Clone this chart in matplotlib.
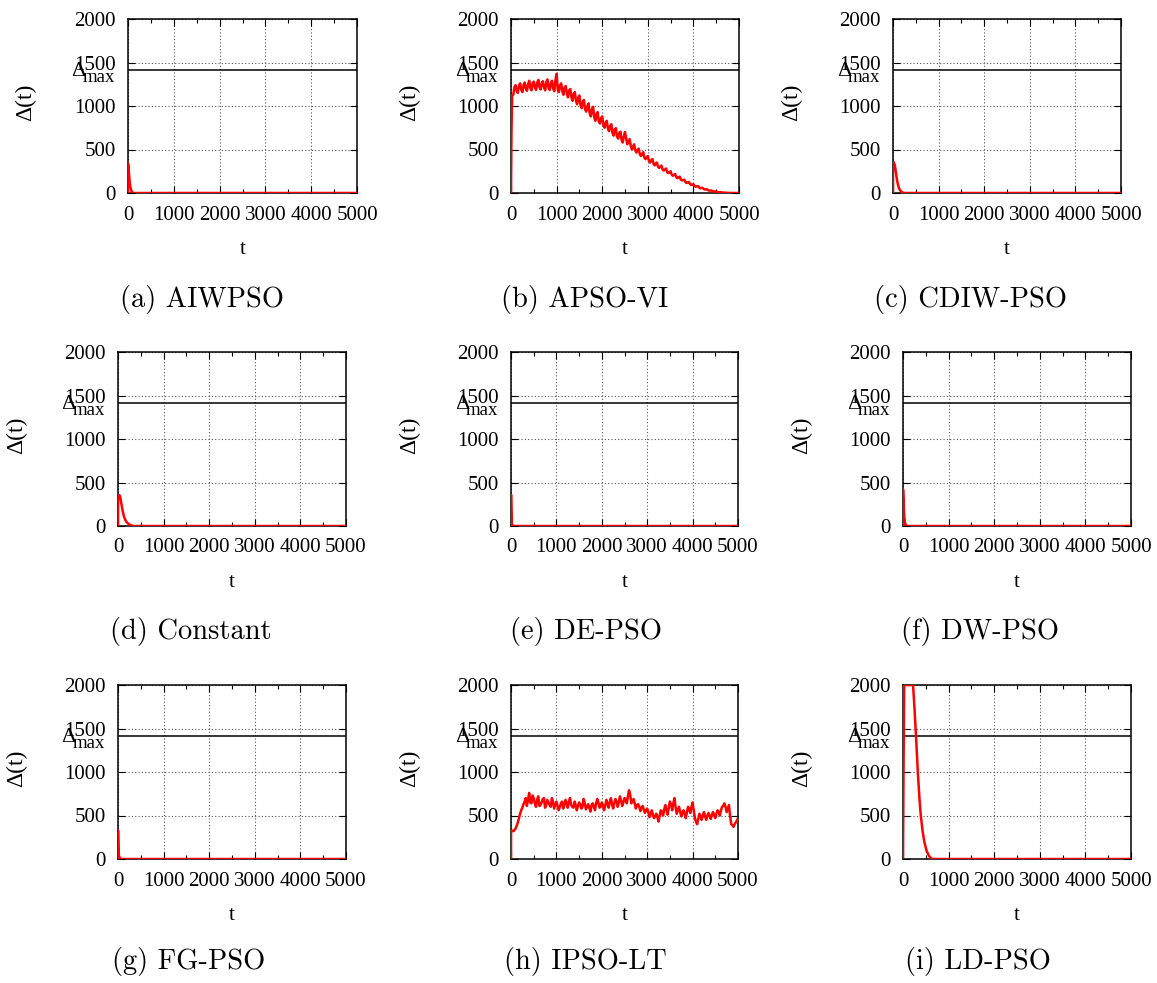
import matplotlib.pyplot as plt
from matplotlib.ticker import MultipleLocator

plt.rcParams['font.family'] = ['Liberation Serif', 'DejaVu Serif']

# 패널 이름
captions = ['(a) AIWPSO', '(b) APSO-VI', '(c) CDIW-PSO',
            '(d) Constant', '(e) DE-PSO', '(f) DW-PSO',
            '(g) FG-PSO', '(h) IPSO-LT', '(i) LD-PSO']

delta_max = 1414

# 그림에서 읽은 값 (t, Δ(t))
t_aiwpso = [0, 1, 10, 25, 40, 51, 70, 90, 120, 5000]
d_aiwpso = [0, 340, 300, 200, 110, 72, 30, 10, 0, 0]

# APSO-VI : t = 0, 10, 25, 50, 100, ... 5000
t_apso = [0, 10, 25] + list(range(50, 5001, 50))
d_apso = [0, 700, 1120,
          1130, 1240, 1150, 1260, 1160, 1270, 1175, 1290, 1180, 1280,
          1185, 1300, 1190, 1285, 1180, 1305, 1185, 1290, 1170, 1370,
          1160, 1260, 1130, 1230, 1100, 1195, 1060, 1160, 1020, 1120,
          975, 1070, 935, 1030, 880, 990, 830, 930, 800, 880,
          750, 830, 710, 790, 660, 745, 625, 705, 580, 700,
          560, 620, 500, 560, 465, 510, 425, 470, 390, 425,
          350, 390, 318, 350, 288, 315, 258, 282, 228, 250,
          198, 218, 170, 188, 145, 152, 115, 128, 92, 102,
          72, 80, 54, 60, 40, 42, 27, 28, 16, 17,
          9, 9, 4, 4, 1, 2, 0, 0, 0, 0]
# APSO-VI 사이값 : t = 75, 125, ... 4975
t_apso_mid = list(range(75, 5000, 50))
d_apso_mid = [1215, 1170, 1235, 1185, 1240, 1200, 1250, 1205, 1265, 1210,
              1270, 1215, 1265, 1210, 1275, 1205, 1265, 1200, 1300,
              1190, 1240, 1170, 1215, 1140, 1180, 1100, 1140, 1060, 1100,
              1010, 1050, 960, 1000, 920, 960, 870, 910, 820, 860,
              780, 810, 740, 770, 690, 730, 650, 690, 610, 650,
              630, 590, 545, 530, 490, 495, 445, 450, 405, 410,
              370, 375, 335, 340, 300, 305, 270, 270, 240, 240,
              210, 210, 182, 180, 155, 150, 128, 120, 105, 95,
              82, 76, 62, 58, 47, 42, 32, 29, 21, 18,
              12, 9, 6, 4, 2, 1, 0, 0, 0, 0]

t_cdiw = [0, 1, 15, 40, 60, 88, 110, 132, 170, 210, 260, 5000]
d_cdiw = [0, 340, 355, 320, 250, 150, 95, 54, 20, 6, 0, 0]

t_const = [0, 1, 28, 50, 100, 131, 180, 250, 336, 5000]
d_const = [0, 300, 356, 330, 180, 107, 50, 15, 0, 0]

t_de = [0, 1, 8, 15, 30, 50, 5000]
d_de = [0, 360, 150, 40, 5, 0, 0]

t_dw = [0, 1, 10, 25, 45, 70, 90, 5000]
d_dw = [0, 420, 300, 120, 30, 5, 0, 0]

t_fg = [0, 1, 8, 20, 40, 80, 5000]
d_fg = [0, 330, 150, 40, 8, 0, 0]

# IPSO-LT : t = 0, 1, 50, 100, ... 5000
t_ipso = [0, 1] + list(range(50, 5001, 50))
d_ipso = [0, 330,
          320, 350, 420, 520, 590, 660, 610, 760, 640, 700,
          600, 720, 620, 690, 590, 680, 620, 700, 580, 660,
          560, 640, 580, 680, 590, 700, 600, 660, 560, 650,
          580, 690, 570, 630, 545, 640, 560, 690, 590, 650,
          560, 680, 590, 700, 580, 690, 600, 720, 610, 700,
          640, 790, 640, 690, 580, 630, 550, 610, 530, 580,
          480, 560, 470, 520, 430, 560, 500, 620, 510, 660,
          560, 700, 520, 600, 490, 560, 470, 600, 530, 650,
          470, 400, 520, 450, 540, 450, 530, 460, 540, 470,
          560, 500, 600, 640, 540, 620, 400, 370, 420, 470]
# IPSO-LT 사이값 : t = 75, 125, ... 4975
t_ipso_mid = list(range(75, 5000, 50))
d_ipso_mid = [330, 380, 470, 560, 630, 700, 680, 650, 730, 640,
              680, 610, 650, 700, 620, 650, 600, 660, 620,
              610, 600, 660, 620, 640, 660, 620, 590, 620, 610,
              630, 600, 640, 600, 590, 620, 600, 640, 650, 600,
              620, 610, 640, 650, 630, 640, 660, 650, 670, 650,
              690, 720, 740, 660, 640, 620, 600, 590, 570, 560,
              540, 520, 510, 490, 480, 500, 540, 570, 560, 590,
              620, 640, 600, 560, 550, 530, 520, 540, 570, 600,
              560, 430, 460, 490, 500, 490, 500, 490, 510, 500,
              520, 540, 560, 610, 600, 580, 500, 390, 400, 440]

t_ld = [0, 10, 25, 220, 250, 285, 325, 360, 390, 430, 470, 520, 570, 630, 5000]
d_ld = [0, 900, 2000, 2000, 1750, 1414, 1000, 700, 500, 320, 190, 90, 35, 0, 0]


def merge(t1, d1, t2, d2):
    pts = sorted(list(zip(t1, d1)) + list(zip(t2, d2)))
    return [p[0] for p in pts], [p[1] for p in pts]


series = [(t_aiwpso, d_aiwpso), merge(t_apso, d_apso, t_apso_mid, d_apso_mid),
          (t_cdiw, d_cdiw),
          (t_const, d_const), (t_de, d_de), (t_dw, d_dw),
          (t_fg, d_fg), merge(t_ipso, d_ipso, t_ipso_mid, d_ipso_mid),
          (t_ld, d_ld)]

# 배치 (픽셀): left, right, top, bottom
W, H = 1157, 983
boxes = [(128, 357, 19, 193), (511, 739, 19, 193), (893, 1121, 19, 193),
         (118, 346, 352, 526), (511, 738, 352, 526), (903, 1131, 352, 526),
         (118, 346, 685, 859), (511, 738, 685, 859), (903, 1131, 685, 859)]
cap_pos = [(202, 300), (585, 300), (970, 300),
           (191, 632), (586, 632), (980, 632),
           (189, 962), (585, 962), (978, 962)]

fig = plt.figure(figsize=(W / 100, H / 100), dpi=100)

for i in range(9):
    l, r, top, bot = boxes[i]
    ax = fig.add_axes([l / W, 1 - bot / H, (r - l) / W, (bot - top) / H])
    t, d = series[i]
    ax.plot(t, d, color='#ff0000', lw=1.8, zorder=3)
    ax.axhline(delta_max, color='black', lw=1.1, zorder=2)

    ax.set_xlim(0, 5000)
    ax.set_ylim(0, 2000)
    ax.xaxis.set_major_locator(MultipleLocator(1000))
    ax.xaxis.set_minor_locator(MultipleLocator(500))
    ax.yaxis.set_major_locator(MultipleLocator(500))
    ax.grid(True, which='major', color='#555555', lw=0.8, ls=(0, (1, 2)))
    ax.tick_params(which='both', direction='in', top=True, right=True,
                   labelsize=15, width=0.8)
    ax.tick_params(which='major', length=5, pad=9)
    ax.tick_params(which='minor', length=3)
    for sp in ax.spines.values():
        sp.set_linewidth(1.1)

    ax.set_xlabel('t', fontsize=15)
    ax.xaxis.set_label_coords(0.5, -0.27)
    ax.set_ylabel('Δ(t)', fontsize=17)
    ax.yaxis.set_label_coords(-0.40, 0.52)

    # Δmax 라벨 (1500 눈금 글자와 겹쳐 있음)
    ax.annotate('Δ', xy=(0, delta_max), xycoords=('axes fraction', 'data'),
                xytext=(-42, -6), textcoords='offset pixels',
                ha='right', va='baseline', fontsize=16, annotation_clip=False)
    ax.annotate('max', xy=(0, delta_max), xycoords=('axes fraction', 'data'),
                xytext=(-13, -12), textcoords='offset pixels',
                ha='right', va='baseline', fontsize=13.5, annotation_clip=False)

    cx, cy = cap_pos[i]
    fig.text(cx / W, 1 - cy / H, captions[i], ha='center', va='center',
             fontsize=20.5, family='cmr10')

fig.savefig('out.png', dpi=100)
